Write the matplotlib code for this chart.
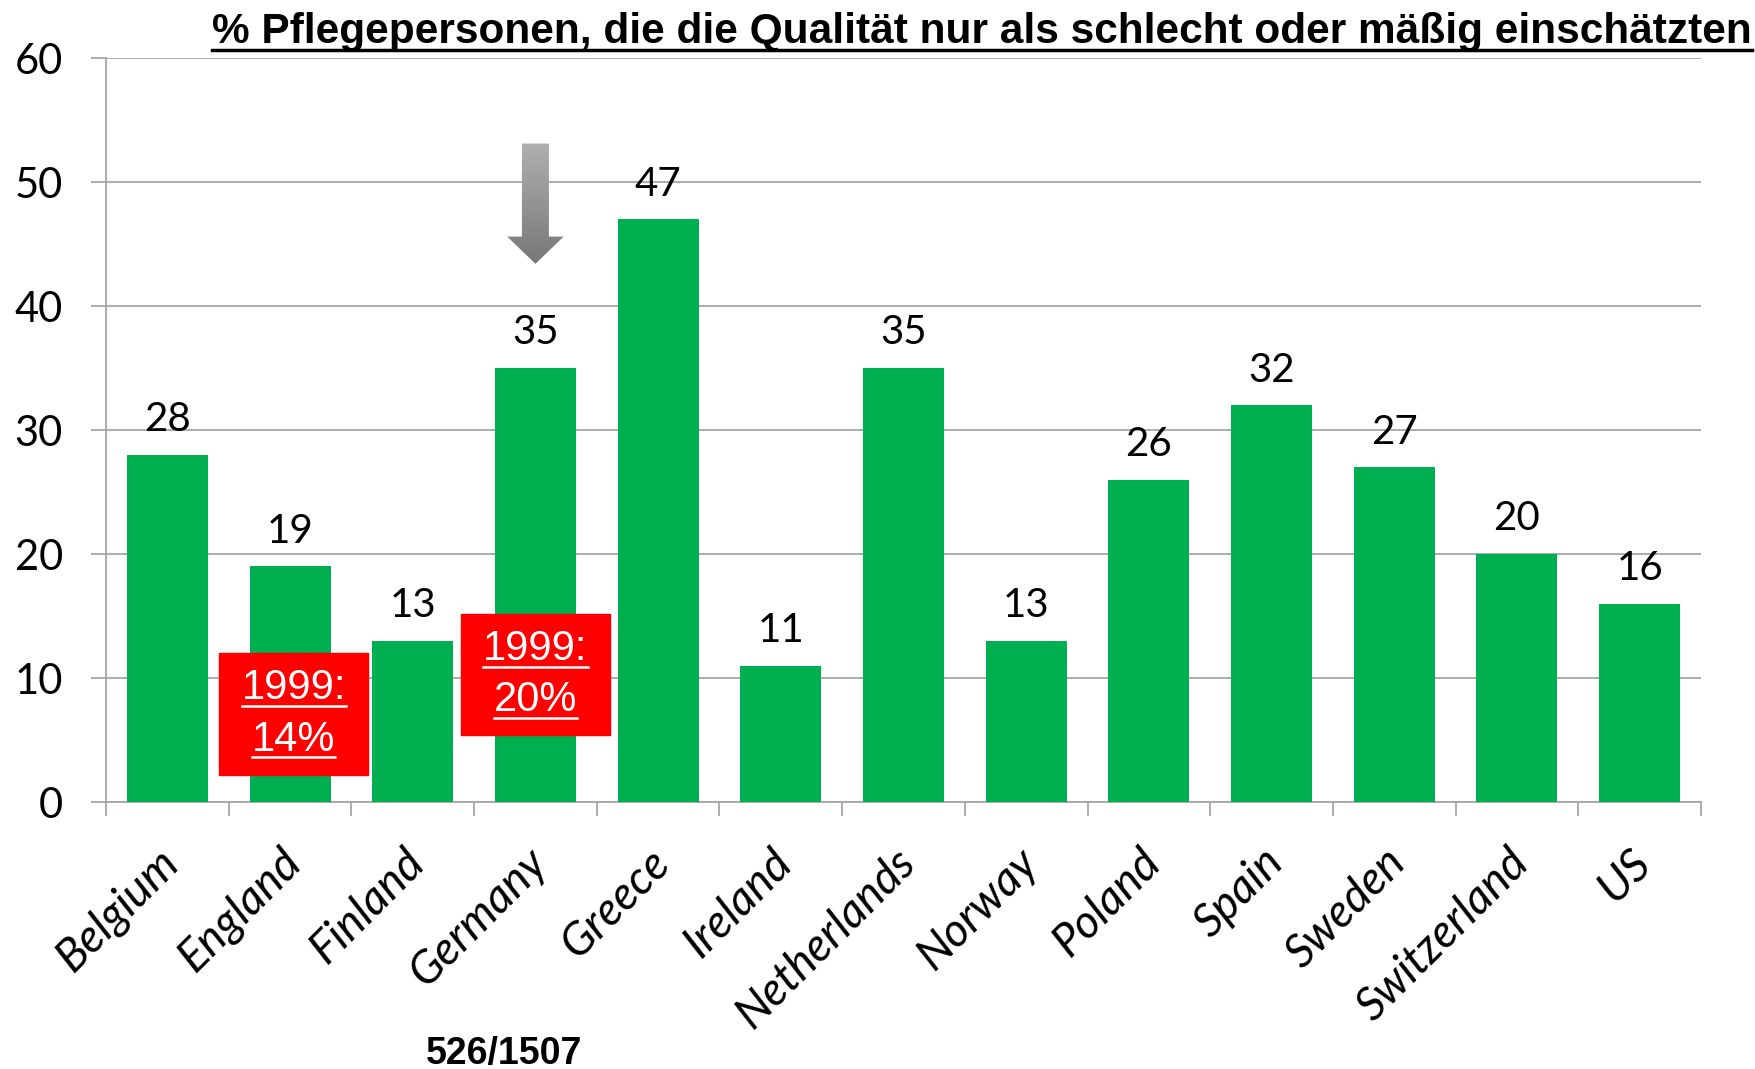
import numpy as np
import matplotlib.pyplot as plt
from matplotlib.lines import Line2D
from matplotlib.patches import Rectangle, Polygon
from matplotlib.colors import LinearSegmentedColormap
from matplotlib.transforms import ScaledTranslation

laender = ["Belgium", "England", "Finland", "Germany", "Greece", "Ireland",
           "Netherlands", "Norway", "Poland", "Spain", "Sweden",
           "Switzerland", "US"]
prozent = [28, 19, 13, 35, 47, 11, 35, 13, 26, 32, 27, 20, 16]
y_ticks = [0, 10, 20, 30, 40, 50, 60]

# Werte von 1999 (rote Kaesten)
vergleich_land = ["England", "Germany"]
vergleich_1999 = [14, 20]

TITEL = "% Pflegepersonen, die die Qualität nur als schlecht oder mäßig einschätzten"
FUSSNOTE = "526/1507"

GRUEN = "#00b050"
GRAU = "#a6a6a6"

W, H = 1756, 1069
fig = plt.figure(figsize=(W / 100, H / 100), dpi=100)
ax = fig.add_axes([106 / W, 1 - 802 / H, 1595 / W, (802 - 58) / H])

x = np.arange(len(laender))
ax.bar(x, prozent, width=0.66, color=GRUEN, zorder=3)
for xi, v in zip(x, prozent):
    ax.annotate(str(v), (xi, v), xytext=(0, 12), textcoords="offset points",
                ha="center", va="bottom", fontsize=29, family="Lato",
                zorder=4)

ax.set_xlim(-0.5, len(laender) - 0.5)
ax.set_ylim(0, 60)
ax.set_yticks(y_ticks)
ax.set_yticklabels([str(t) for t in y_ticks], family="Lato", fontsize=30)
ax.tick_params(axis="y", length=11, width=1.3, color=GRAU, pad=20)
ax.yaxis.grid(True, color=GRAU, lw=1.3, zorder=0)

# Striche an den Grenzen, Beschriftung in der Mitte
ax.set_xticks(np.arange(len(laender) + 1) - 0.5)
ax.set_xticklabels([])
ax.tick_params(axis="x", which="major", length=10, width=1.3, color=GRAU)
ax.set_xticks(x, minor=True)
ax.set_xticklabels(laender, minor=True, rotation=45, ha="right", va="top",
                   rotation_mode="anchor", family="Lato", style="italic",
                   fontsize=33)
ax.tick_params(axis="x", which="minor", length=0, pad=28)
shift = ScaledTranslation(-10 / 100, 0, fig.dpi_scale_trans)
for lab in ax.get_xticklabels(minor=True):
    lab.set_transform(lab.get_transform() + shift)

for s in ["top", "right"]:
    ax.spines[s].set_visible(False)
for s in ["left", "bottom"]:
    ax.spines[s].set_color(GRAU)
    ax.spines[s].set_linewidth(1.3)

# grauer Pfeil ueber Germany
gx = laender.index("Germany")
pts = [(gx - 0.11, 53.1), (gx + 0.11, 53.1), (gx + 0.11, 45.6),
       (gx + 0.23, 45.6), (gx, 43.4), (gx - 0.23, 45.6), (gx - 0.11, 45.6)]
pfeil = Polygon(pts, closed=True, facecolor="none", edgecolor="none")
ax.add_patch(pfeil)
grad = np.linspace(0, 1, 100).reshape(-1, 1)
img = ax.imshow(grad, cmap=LinearSegmentedColormap.from_list(
    "g", ["#777777", "#b0b0b0"]), extent=(gx - 0.25, gx + 0.25, 43.4, 53.1),
    aspect="auto", origin="lower", zorder=5)
img.set_clip_path(pfeil)
ax.set_xlim(-0.5, len(laender) - 0.5)
ax.set_ylim(0, 60)

# rote Kaesten
kasten = {"England": (1.03, 2.2, 12.0), "Germany": (3.0, 5.4, 15.2)}
texte = []
for land, wert in zip(vergleich_land, vergleich_1999):
    cx, y0, y1 = kasten[land]
    ax.add_patch(Rectangle((cx - 0.605, y0), 1.21, y1 - y0, color="#ff0000",
                           zorder=6))
    ym = (y0 + y1) / 2
    t1 = ax.text(cx, ym + 0.45, "1999:", ha="center", va="bottom",
                 color="white", fontsize=30, family="Liberation Sans",
                 zorder=7)
    t2 = ax.text(cx, ym - 0.45, f"{wert}%", ha="center", va="top",
                 color="white", fontsize=30, family="Liberation Sans",
                 zorder=7)
    texte += [t1, t2]

titel = fig.text(1752 / W, 1 - 43 / H, TITEL, ha="right", va="baseline",
                 fontsize=30.5, weight="bold", family="Liberation Sans")
fuss = fig.text(504 / W, 1 - 1064 / H, FUSSNOTE, ha="center", va="baseline",
                fontsize=27, weight="bold", family="Liberation Sans")

# Unterstreichen
fig.canvas.draw()
r = fig.canvas.get_renderer()
for t, lw in [(titel, 2.5)] + [(t, 1.8) for t in texte]:
    bb = t.get_window_extent(r)
    yy = bb.y0 + 0.05 * t.get_fontsize() * 100 / 72
    fig.add_artist(Line2D([bb.x0 / W, bb.x1 / W], [yy / H, yy / H],
                          transform=fig.transFigure, color=t.get_color(),
                          lw=lw, zorder=8))

fig.savefig("out.png", dpi=100)
